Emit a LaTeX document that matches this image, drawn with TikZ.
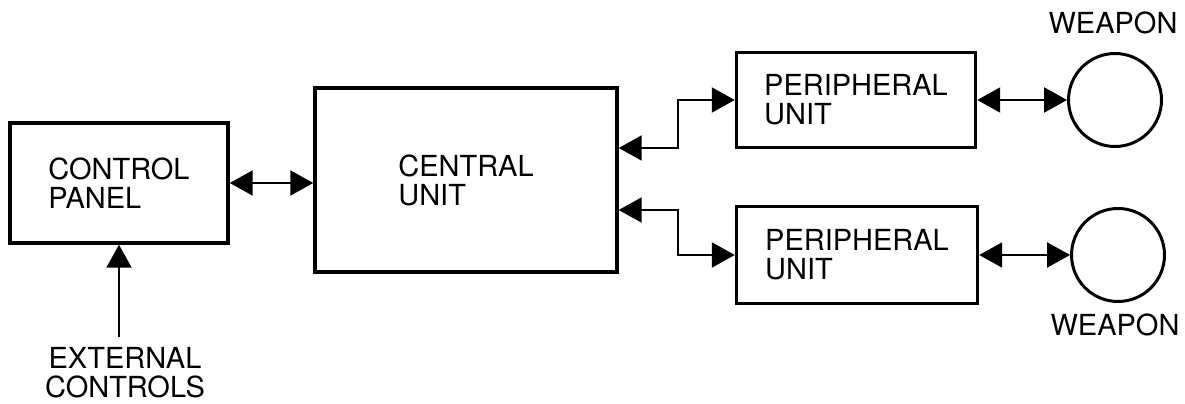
\documentclass[tikz,border=0pt]{standalone}
\usepackage{fontspec}
\setmainfont{TeX Gyre Heros}
\usetikzlibrary{arrows.meta}
\begin{document}
\begin{tikzpicture}[x=0.02cm, y=-0.02cm,
    >={Triangle[length=4.6mm, width=5mm]},
    font=\fontsize{16.5}{16.5}\selectfont,
    unitbox/.style={draw, line width=2pt, align=left, inner sep=0pt},
    weapon/.style={draw, circle, line width=1.7pt, minimum size=1.86cm, inner sep=0pt},
    link/.style={<->, line width=1.2pt}]
\useasboundingbox (0,0) rectangle (1185,404);
\node (panel) [unitbox, minimum width=4.36cm, minimum height=2.4cm] at (119,183) {CONTROL\\PANEL};
\node (central) [unitbox, minimum width=6.04cm, minimum height=3.68cm] at (466,180) {CENTRAL\\UNIT};
\node (peritop) [unitbox, minimum width=4.78cm, minimum height=1.9cm] at (856,100) {PERIPHERAL\\UNIT};
\node (peribot) [unitbox, minimum width=4.82cm, minimum height=1.94cm] at (857,255) {PERIPHERAL\\UNIT};
\node (weapontop) [weapon] at (1115,100) {};
\node (weaponbot) [weapon] at (1118,255) {};
\node (labeltop) at (1113,23) {WEAPON};
\node (labelbot) at (1115,325) {WEAPON};
\node (ext) [align=center] at (125,373) {EXTERNAL\\CONTROLS};
\coordinate (bendtop) at (678,148);
\coordinate (bendbot) at (678,210);
\draw[link] (panel.east) -- (panel.east -| central.west);
\draw[link] (central.east |- bendtop) -- (bendtop) |- (peritop.west);
\draw[link] (central.east |- bendbot) -- (bendbot) |- (peribot.west);
\draw[link] (peritop.east) -- (weapontop.west);
\draw[link] (peribot.east) -- (weaponbot.west);
\draw[->, line width=1.2pt] ([yshift=0.08cm]ext.north -| panel.south) -- (panel.south);
\end{tikzpicture}
\end{document}
